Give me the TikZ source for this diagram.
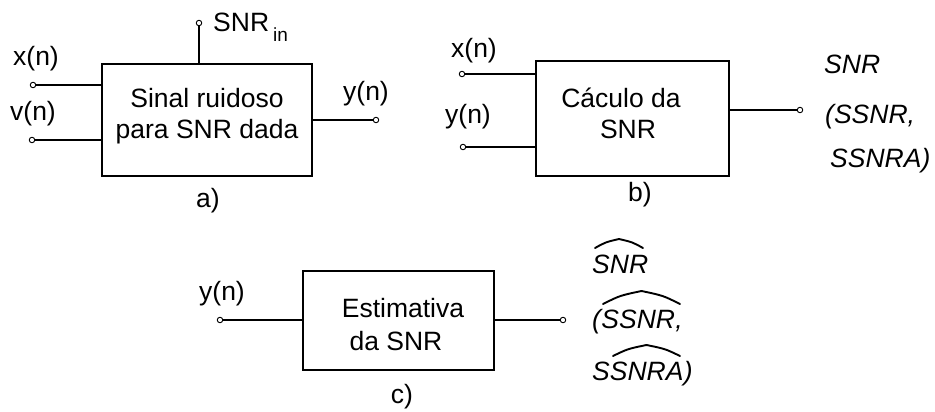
\documentclass[tikz,border=0pt]{standalone}
\usepackage{fontspec}
\setmainfont{Liberation Sans}

% hat over an estimated quantity: left x, right x, end y, peak y
\newcommand\roofover[4]{%
  \draw[hatline] (#1,#3) .. controls ({#1+0.22*(#2-#1)},{#4+0.35*(#3-#4)}) .. ({(#1+#2)/2},#4)
                          .. controls ({#2-0.22*(#2-#1)},{#4+0.35*(#3-#4)}) .. (#2,#3);}

\begin{document}
\begin{tikzpicture}[x=1pt,y=-1pt,
  every node/.style={font=\fontsize{26.5}{31}\selectfont, inner sep=0pt, text=black},
  blk/.style={draw, line width=1.6pt, rectangle},
  term/.style={circle, draw, line width=0.9pt, minimum size=5.5pt, inner sep=0pt, fill=white},
  wire/.style={line width=1.6pt},
  hatline/.style={line width=1.9pt, line cap=round, line join=round},
  est/.style={font=\fontsize{26.5}{31}\selectfont\itshape}]
\useasboundingbox (0,0) rectangle (935,412);

% ---------- a) noisy signal generator ----------
\node[blk, minimum width=210pt, minimum height=112pt] (A) at (207,120) {};
\node[anchor=base] (A1) at (207,107) {Sinal ruidoso};
\node[anchor=base] (A2) at (207,138) {para SNR dada};
\node[term] (ax) at (33,85) {};
\node[term] (av) at (32,140) {};
\node[term] (ay) at (376,120) {};
\node[term] (as) at (199,23) {};
\draw[wire] (ax) -- (ax -| A.west);
\draw[wire] (av) -- (av -| A.west);
\draw[wire] (ay -| A.east) -- (ay);
\draw[wire] (as) -- (as |- A.north);
\node[anchor=base] (axl) at (36,66) {x(n)};
\node[anchor=base] (avl) at (33,121) {v(n)};
\node[anchor=base] (ayl) at (366,101) {y(n)};
\node[anchor=base west] (asl) at (213,32) {SNR\hspace{4pt}\raisebox{-10pt}{\fontsize{19}{19}\selectfont in}};
\node[anchor=base] (acap) at (208,207) {a)};

% ---------- b) SNR computation ----------
\node[blk, minimum width=193pt, minimum height=115pt] (B) at (632.5,118.5) {};
\node[anchor=base] (B1) at (621,107) {Cáculo da};
\node[anchor=base] (B2) at (628,138) {SNR};
\node[term] (bx) at (462,74) {};
\node[term] (by) at (463,147) {};
\node[term] (bo) at (800,110) {};
\draw[wire] (bx) -- (bx -| B.west);
\draw[wire] (by) -- (by -| B.west);
\draw[wire] (bo -| B.east) -- (bo);
\node[anchor=base] (bxl) at (474,58) {x(n)};
\node[anchor=base] (byl) at (468,124) {y(n)};
\node[anchor=base] (bcap) at (640,201) {b)};
\node[est, anchor=base west] (bo1) at (824,74) {SNR};
\node[est, anchor=base west] (bo2) at (825,123) {(SSNR,};
\node[est, anchor=base west] (bo3) at (830,167) {SSNRA)};

% ---------- c) SNR estimation ----------
\node[blk, minimum width=191pt, minimum height=99pt] (C) at (398.5,320.5) {};
\node[anchor=base] (C1) at (403,317) {Estimativa};
\node[anchor=base] (C2) at (396,350) {da SNR};
\node[term] (cy) at (220,320) {};
\node[term] (co) at (563,320) {};
\draw[wire] (cy) -- (cy -| C.west);
\draw[wire] (co -| C.east) -- (co);
\node[anchor=base] (cyl) at (222,300) {y(n)};
\node[anchor=base] (ccap) at (402,403) {c)};

\node[est, anchor=base west] (co1) at (592,273) {SNR};
\node[est, anchor=base west] (co2a) at (592,328) {(};
\node[est, anchor=base west] (co2b) at (co2a.base east) {SSNR};
\node[est, anchor=base west] (co2c) at (co2b.base east) {,};
\node[est, anchor=base west] (co3a) at (592,380) {SSNRA};
\node[est, anchor=base west] (co3b) at (co3a.base east) {)};
\roofover{595}{643}{248}{239}
\roofover{603}{680}{304}{291}
\roofover{613}{680}{356}{345}
\end{tikzpicture}
\end{document}
